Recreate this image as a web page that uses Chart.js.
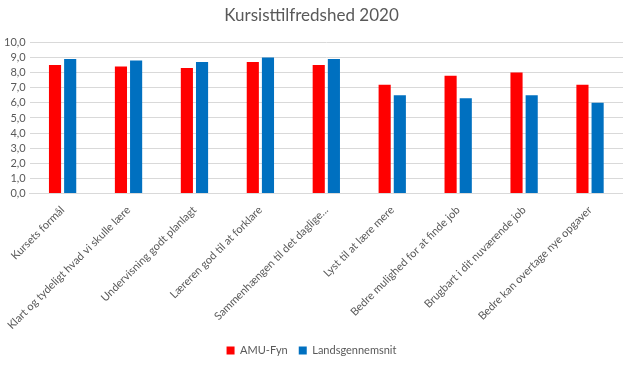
<!DOCTYPE html>
<html><head><meta charset="utf-8">
<script src="https://cdn.jsdelivr.net/npm/chart.js@4/dist/chart.umd.min.js"></script>
<style>html,body{margin:0;padding:0;background:#fff;}#wrap{width:623px;height:366px;}</style>
</head><body><div id="wrap"><canvas id="c"></canvas></div>
<script>
const categories = ["Kursets formål","Klart og tydeligt hvad vi skulle lære","Undervisning godt planlagt","Læreren god til at forklare","Sammenhængen til det daglige...","Lyst til at lære mere","Bedre mulighed for at finde job","Brugbart i dit nuværende job","Bedre kan overtage nye opgaver"];
const amuFyn = [8.5, 8.4, 8.3, 8.7, 8.5, 7.2, 7.8, 8.0, 7.2];
const landsgennemsnit = [8.9, 8.8, 8.7, 9.0, 8.9, 6.5, 6.3, 6.5, 6.0];
const seriesNames = ["AMU-Fyn","Landsgennemsnit"];
const titleText = "Kursisttilfredshed 2020";

const grey = '#595959';
const fam = 'Lato, "Open Sans", sans-serif';
new Chart(document.getElementById('c'), {
  type: 'bar',
  data: {
    labels: categories,
    datasets: [
      {label: seriesNames[0], data: amuFyn, backgroundColor: '#FF0000', categoryPercentage: 0.46, barPercentage: 0.8},
      {label: seriesNames[1], data: landsgennemsnit, backgroundColor: '#0070C0', categoryPercentage: 0.46, barPercentage: 0.8}
    ]
  },
  options: {
    responsive: true, maintainAspectRatio: false, animation: false,
    layout: {padding: {left: 0, right: 0, top: 5, bottom: 0}},
    plugins: {
      title: {display: true, text: titleText, color: grey, font: {family: fam, size: 17, weight: 'normal'}, padding: {top: 0, bottom: 17}},
      legend: {position: 'bottom', labels: {color: grey, boxWidth: 8, boxHeight: 8, font: {family: fam, size: 11}, padding: 11}},
      tooltip: {enabled: false}
    },
    scales: {
      x: {
        grid: {display: false},
        border: {color: '#d9d9d9'},
        ticks: {color: grey, font: {family: fam, size: 11}, maxRotation: 45, minRotation: 45, autoSkip: false, padding: 2}
      },
      y: {
        min: 0, max: 10,
        grid: {color: '#d9d9d9', drawTicks: false},
        border: {display: false},
        ticks: {stepSize: 1, autoSkip: false, color: grey, font: {family: fam, size: 11}, padding: 4, callback: v => v.toFixed(1).replace('.', ',')}
      }
    }
  }
});
</script></body></html>
